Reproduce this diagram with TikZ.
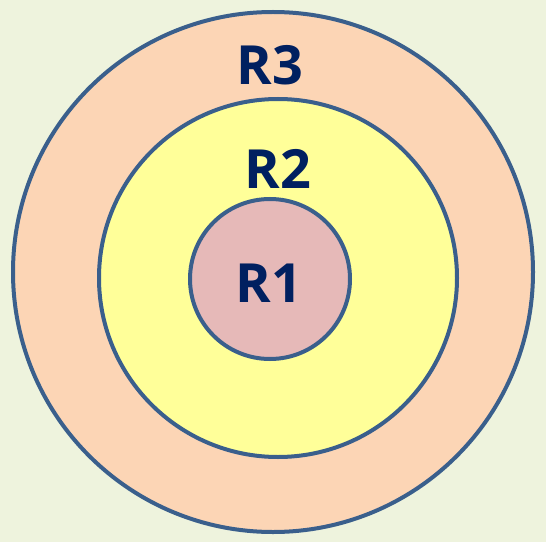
\documentclass[tikz,border=0pt]{standalone}
\usepackage{fontspec}
\setmainfont{Open Sans}
\definecolor{bg}{HTML}{EEF3DD}
\definecolor{r3fill}{HTML}{FCD5B5}
\definecolor{r2fill}{HTML}{FFFF99}
\definecolor{r1fill}{HTML}{E6B9B8}
\definecolor{ring}{HTML}{3A5F8C}
\definecolor{labelc}{HTML}{002060}
\begin{document}
\begin{tikzpicture}[x=1pt,y=1pt,
  ringstyle/.style={circle,draw=ring,line width=4pt,inner sep=0pt},
  lab/.style={text=labelc,font=\fontsize{54}{60}\selectfont\bfseries,inner sep=0pt,anchor=base}]
\fill[bg] (0,0) rectangle (546,542);
\useasboundingbox (0,0) rectangle (546,542);
\node[ringstyle,fill=r3fill,minimum size=520pt] (r3) at (273,270) {};
\node[ringstyle,fill=r2fill,minimum size=358pt] (r2) at (278,264) {};
\node[ringstyle,fill=r1fill,minimum size=160pt] (r1) at (270,263) {};
\node[lab] (t3) at (270,457) {R3};
\node[lab] (t2) at (278,354) {R2};
\node[lab] (t1) at (269,240) {R1};
\end{tikzpicture}
\end{document}
